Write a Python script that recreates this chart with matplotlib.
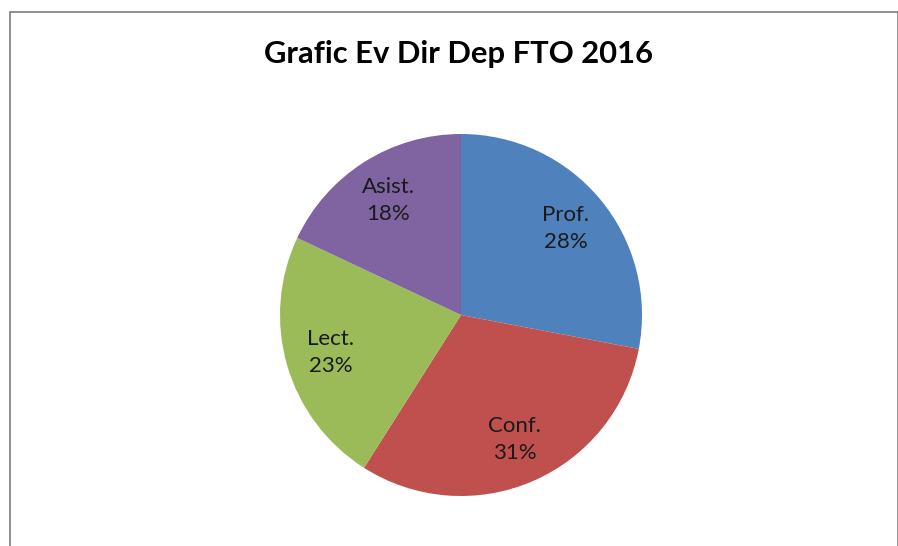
#!/usr/bin/env python3
"""Pie chart: Grafic Ev Dir Dep FTO 2016."""

import matplotlib
matplotlib.use("Agg")
import matplotlib.pyplot as plt
from matplotlib.patches import Rectangle

categories = ["Prof.", "Conf.", "Lect.", "Asist."]
shares = [28, 31, 23, 18]
colors = ["#4F81BD", "#C0504D", "#9BBB59", "#8064A2"]

W, H = 898, 546
fig = plt.figure(figsize=(W / 100, H / 100), dpi=100)
plt.rcParams["font.family"] = ["Lato", "DejaVu Sans"]

# outer chart border (top and sides only, bottom is cut off)
fig.patches.append(Rectangle((9.5 / W, -0.05), 888 / W, (H - 11.5) / H + 0.05,
                             transform=fig.transFigure, fill=False,
                             edgecolor="#878787", linewidth=1.3))

fig.text(458 / W, 1 - 54 / H, "Grafic Ev Dir Dep FTO 2016", ha="center", va="center",
         fontsize=22.3, fontweight="bold", color="black")

cx, cy, r = 461, 315, 181
ax = fig.add_axes([(cx - r) / W, (H - cy - r) / H, 2 * r / W, 2 * r / H])

labels_iter = iter(categories)


def fmt(pct):
    return f"{next(labels_iter)}\n{pct:.0f}%"


wedges, texts, autotexts = ax.pie(shares, colors=colors, startangle=90, counterclock=False,
                                  autopct=fmt, pctdistance=0.75, radius=1,
                                  wedgeprops=dict(linewidth=0))
for t in autotexts:
    t.set_fontsize(16)
    t.set_color("#1a1a1a")
    t.set_linespacing(1.45)
ax.set_xlim(-1, 1)
ax.set_ylim(-1, 1)

fig.savefig("out.png", dpi=100)
